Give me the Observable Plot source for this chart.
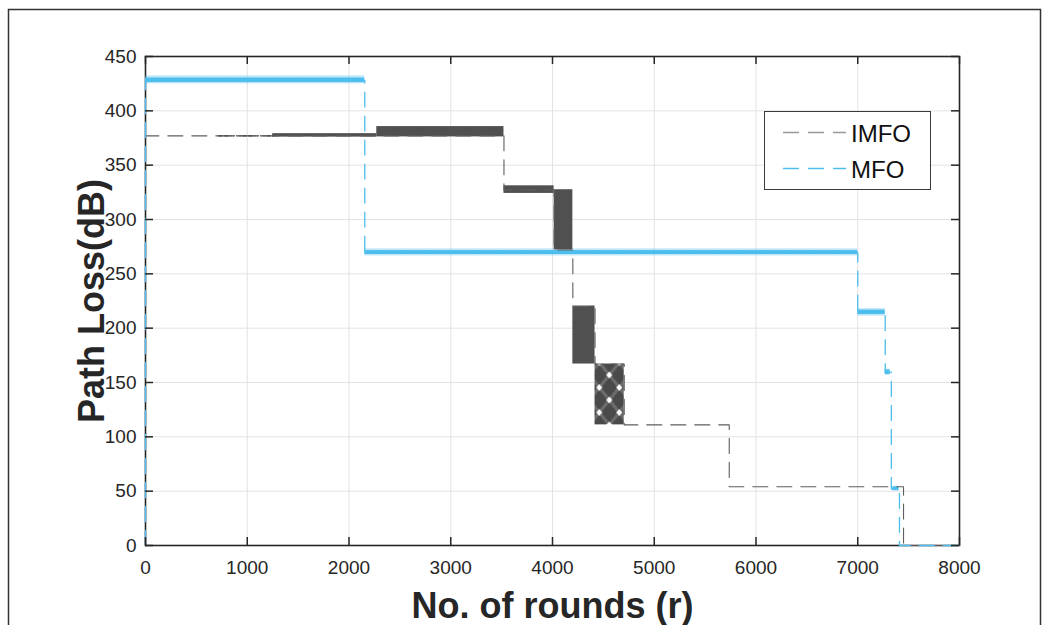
<!DOCTYPE html>
<html>
<head>
<meta charset="utf-8">
<script src="https://cdn.jsdelivr.net/npm/d3@7"></script>
<script src="https://cdn.jsdelivr.net/npm/@observablehq/plot@0.6"></script>
<style>
  html, body { margin: 0; padding: 0; background: #fff; }
  svg { display: block; }
</style>
</head>
<body>
<script>
// ---- data ----
const xTicks = [0, 1000, 2000, 3000, 4000, 5000, 6000, 7000, 8000];
const yTicks = [0, 50, 100, 150, 200, 250, 300, 350, 400, 450];

// IMFO step series (value holds from this round to the next)
const imfoRounds = [0, 0, 3523, 4016, 4200, 4418, 4705, 5737, 7450, 8000];
const imfoLoss   = [0, 377, 327, 272, 220, 167, 111, 54, 0, 0];
// dense short-dash stretch of IMFO
const imfoDenseRounds = [718, 1250];
const imfoDenseLoss   = [377, 377];
// IMFO oscillation bands
const imfoBandStart = [1250, 2273, 3523, 4016, 4200, 4418];
const imfoBandEnd   = [2273, 3523, 4016, 4200, 4418, 4705];
const imfoBandLow   = [375.8, 376, 324, 272, 167, 111];
const imfoBandHigh  = [379, 385.5, 331, 327.4, 220.4, 167];
const imfoBandKind  = ["solid", "solid", "solid", "solid", "solid", "checker"];

// MFO step series
const mfoRounds = [0, 0, 2155, 7000, 7270, 7330, 7410, 8000];
const mfoLoss   = [0, 428, 269.5, 214.5, 159.5, 52, 0, 0];
// MFO noise bands
const mfoBandStart = [0, 2155, 7000, 7270, 7345];
const mfoBandEnd   = [2155, 7000, 7270, 7318, 7405];
const mfoBandLow   = [426, 267.8, 212.6, 157.4, 50.6];
const mfoBandHigh  = [430.2, 271.4, 216.6, 161.6, 54];
const mfoNoiseLow  = [424.8, 266.4, 211, 156.5, 50];
const mfoNoiseHigh = [432.2, 273, 218, 162.3, 54.5];

const seriesNames = ["IMFO", "MFO"];

// ---- tables ----
const imfo = imfoRounds.map((r, i) => ({r, v: imfoLoss[i]}));
const imfoDense = imfoDenseRounds.map((r, i) => ({r, v: imfoDenseLoss[i]}));
const imfoBands = imfoBandStart.map((s, i) => ({x1: s, x2: imfoBandEnd[i], y1: imfoBandLow[i], y2: imfoBandHigh[i], kind: imfoBandKind[i]}));
const mfo = mfoRounds.map((r, i) => ({r, v: mfoLoss[i]}));
const mfoBands = mfoBandStart.map((s, i) => ({x1: s, x2: mfoBandEnd[i], y1: mfoBandLow[i], y2: mfoBandHigh[i], n1: mfoNoiseLow[i], n2: mfoNoiseHigh[i]}));

const GRAY = "#5e5e5e";
const BAND = "#505050";
const BLUE = "#4DBEEE";
const INK = "#262626";
const FONT = "'Liberation Sans', Arial, Helvetica, sans-serif";

const W = 1048, H = 625, ML = 145, MR = 89, MT = 56, MB = 80;
const FW = W - ML - MR, FH = H - MT - MB, TICK = 8;

const plot = Plot.plot({
  width: W,
  height: H,
  marginLeft: ML,
  marginRight: MR,
  marginTop: MT,
  marginBottom: MB,
  x: {domain: [0, 8000]},
  y: {domain: [0, 450]},
  style: {fontFamily: FONT, fontSize: "19px", color: INK, background: "#fff"},
  marks: [
    Plot.gridX(xTicks, {stroke: "#e3e3e3", strokeOpacity: 1, strokeWidth: 1}),
    Plot.gridY(yTicks, {stroke: "#e3e3e3", strokeOpacity: 1, strokeWidth: 1}),
    Plot.frame({stroke: INK, strokeWidth: 1.6}),
    // MFO noise bands
    Plot.rect(mfoBands, {x1: "x1", x2: "x2", y1: "n1", y2: "n2", fill: BLUE, fillOpacity: 0.35}),
    Plot.rect(mfoBands, {x1: "x1", x2: "x2", y1: "y1", y2: "y2", fill: BLUE}),
    // IMFO bands
    Plot.rect(imfoBands.filter(d => d.kind === "solid"), {x1: "x1", x2: "x2", y1: "y1", y2: "y2", fill: BAND}),
    Plot.rect(imfoBands.filter(d => d.kind === "checker"), {x1: "x1", x2: "x2", y1: "y1", y2: "y2", fill: "url(#checker)"}),
    // lines
    Plot.line(imfo, {x: "r", y: "v", curve: "step-after", stroke: GRAY, strokeWidth: 1.1, strokeDasharray: "15,9"}),
    Plot.line(imfoDense, {x: "r", y: "v", stroke: "#444", strokeWidth: 1.3, strokeDasharray: "4,2"}),
    Plot.line(mfo, {x: "r", y: "v", curve: "step-after", stroke: BLUE, strokeWidth: 1.3, strokeDasharray: "15,9"}),
    // inward ticks on all four sides
    Plot.ruleX(xTicks, {x: d => d, insetTop: FH - TICK, stroke: INK, strokeWidth: 1.5}),
    Plot.ruleX(xTicks, {x: d => d, insetBottom: FH - TICK, stroke: INK, strokeWidth: 1.5}),
    Plot.ruleY(yTicks, {y: d => d, insetRight: FW - TICK, stroke: INK, strokeWidth: 1.5}),
    Plot.ruleY(yTicks, {y: d => d, insetLeft: FW - TICK, stroke: INK, strokeWidth: 1.5}),
    // tick labels
    Plot.axisX(xTicks, {anchor: "bottom", tickSize: 0, tickPadding: 15, label: null, tickFormat: d => String(d), fontSize: 19, fill: INK}),
    Plot.axisY(yTicks, {anchor: "left", tickSize: 0, tickPadding: 9, label: null, tickFormat: d => String(d), fontSize: 19, fill: INK}),
    // axis titles
    Plot.text(["No. of rounds (r)"], {frameAnchor: "bottom", dy: 72, lineAnchor: "bottom", textAnchor: "middle", text: d => d, fontSize: 36, fontWeight: "bold", fill: INK}),
    Plot.text(["Path Loss(dB)"], {frameAnchor: "left", dx: -42, rotate: -90, lineAnchor: "bottom", textAnchor: "middle", text: d => d, fontSize: 36, fontWeight: "bold", fill: INK})
  ]
});

const svg = d3.select(plot);

// checker pattern for the last IMFO band
const defs = svg.insert("defs", ":first-child");
const pat = defs.append("pattern")
  .attr("id", "checker")
  .attr("patternUnits", "userSpaceOnUse")
  .attr("x", 599.3).attr("y", 375)
  .attr("width", 20).attr("height", 25);
pat.append("rect").attr("width", 20).attr("height", 25).attr("fill", "#4a4a4a");
pat.append("path").attr("d", "M0,12.5 L10,0 L20,12.5 L10,25 Z").attr("fill", "none").attr("stroke", "#6c6c6c").attr("stroke-width", 3);
const diamond = (cx, cy) => `M${cx - 3},${cy} L${cx},${cy - 3.4} L${cx + 3},${cy} L${cx},${cy + 3.4} Z`;
pat.append("path")
  .attr("d", [diamond(10, 0), diamond(10, 25), diamond(0, 12.5), diamond(20, 12.5)].join(" "))
  .attr("fill", "#fff");

// outer figure border
svg.append("path")
  .attr("d", "M8.5,625 V9.5 H1040.5 V625")
  .attr("fill", "none").attr("stroke", "#333").attr("stroke-width", 1.5);

// legend
const lg = svg.append("g").attr("font-family", FONT).attr("text-anchor", "start");
lg.append("rect").attr("x", 764.5).attr("y", 111.5).attr("width", 166).attr("height", 78)
  .attr("fill", "#fff").attr("stroke", "#3a3a3a").attr("stroke-width", 1);
const legendColors = ["#999", BLUE];
const legendY = [132, 168];
seriesNames.forEach((name, i) => {
  lg.append("line").attr("x1", 783).attr("x2", 846).attr("y1", legendY[i] + 0.5).attr("y2", legendY[i] + 0.5)
    .attr("stroke", legendColors[i]).attr("stroke-width", 1.3).attr("stroke-dasharray", "16,9");
  lg.append("text").attr("x", 851).attr("y", legendY[i] + 10).attr("font-size", 24)
    .attr("text-anchor", "start").attr("fill", "#111").text(name);
});

document.body.appendChild(plot);
</script>
</body>
</html>
